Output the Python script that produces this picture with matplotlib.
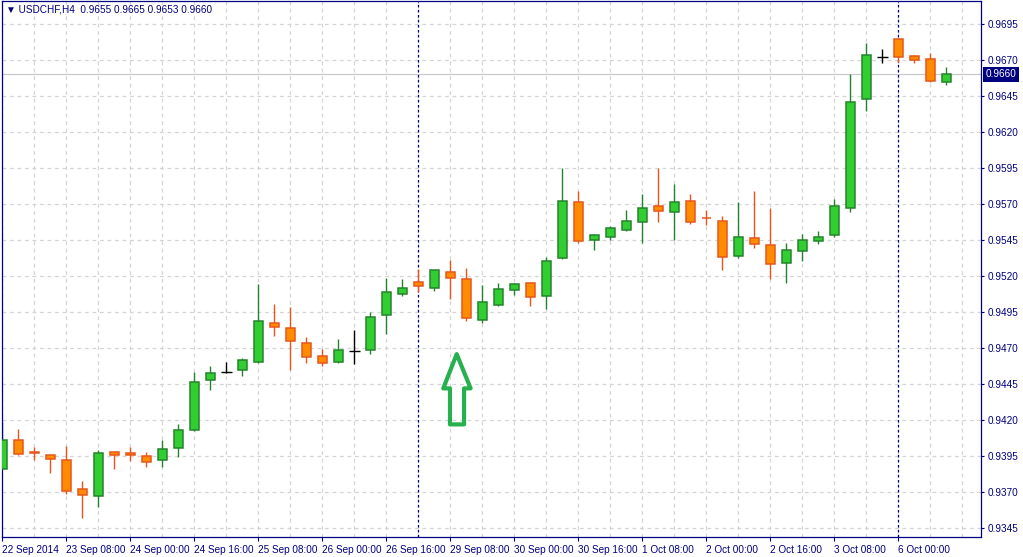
import matplotlib
matplotlib.use("Agg")
import matplotlib.pyplot as plt
from matplotlib.patches import Polygon
import matplotlib.transforms as mtransforms
import numpy as np

# ---------------- data ----------------
symbol_title = "▼ USDCHF,H4  0.9655 0.9665 0.9653 0.9660"

opens = [0.93861, 0.94060, 0.93977, 0.93956, 0.93921, 0.93721, 0.93672, 0.93977, 0.93970, 0.93949,
         0.93921, 0.94009, 0.94133, 0.94481, 0.94536, 0.94550, 0.94606, 0.94875, 0.94841, 0.94737,
         0.94647, 0.94603, 0.94682, 0.94689, 0.94930, 0.95076, 0.95159, 0.95117, 0.95228, 0.95179,
         0.94896, 0.95001, 0.95105, 0.95154, 0.95061, 0.95325, 0.95716, 0.95450, 0.95471, 0.95519,
         0.95575, 0.95688, 0.95647, 0.95723, 0.95605, 0.95584, 0.95339, 0.95466, 0.95418, 0.95290,
         0.95376, 0.95445, 0.95487, 0.95675, 0.96432, 0.96723, 0.96848, 0.96730, 0.96709, 0.96550]
highs = [0.94188, 0.94138, 0.94011, 0.93958, 0.94018, 0.93778, 0.93993, 0.93980, 0.94011, 0.93977,
         0.94062, 0.94172, 0.94532, 0.94573, 0.94606, 0.94629, 0.95142, 0.95009, 0.94986, 0.94778,
         0.94691, 0.94760, 0.94822, 0.94953, 0.95189, 0.95179, 0.95246, 0.95242, 0.95313, 0.95258,
         0.95140, 0.95154, 0.95150, 0.95160, 0.95334, 0.95948, 0.95788, 0.95490, 0.95547, 0.95656,
         0.95769, 0.95948, 0.95837, 0.95769, 0.95656, 0.95619, 0.95712, 0.95788, 0.95670, 0.95429,
         0.95494, 0.95515, 0.95737, 0.96600, 0.96820, 0.96779, 0.96855, 0.96737, 0.96751, 0.96650]
lows = [0.93861, 0.93956, 0.93926, 0.93834, 0.93684, 0.93518, 0.93594, 0.93857, 0.93919, 0.93875,
        0.93875, 0.93944, 0.94126, 0.94410, 0.94528, 0.94509, 0.94594, 0.94783, 0.94550, 0.94596,
        0.94576, 0.94596, 0.94589, 0.94659, 0.94797, 0.95059, 0.95089, 0.95094, 0.95043, 0.94887,
        0.94873, 0.94995, 0.95068, 0.94992, 0.94973, 0.95320, 0.95429, 0.95381, 0.95450, 0.95515,
        0.95429, 0.95575, 0.95450, 0.95561, 0.95554, 0.95242, 0.95325, 0.95394, 0.95182, 0.95151,
        0.95304, 0.95425, 0.95473, 0.95647, 0.96346, 0.96681, 0.96688, 0.96679, 0.96547, 0.96530]
closes = [0.94064, 0.93967, 0.93970, 0.93928, 0.93705, 0.93679, 0.93970, 0.93956, 0.93956, 0.93907,
          0.93997, 0.94129, 0.94467, 0.94530, 0.94536, 0.94619, 0.94889, 0.94848, 0.94751, 0.94640,
          0.94599, 0.94689, 0.94682, 0.94917, 0.95089, 0.95117, 0.95131, 0.95239, 0.95186, 0.94910,
          0.95020, 0.95112, 0.95147, 0.95056, 0.95306, 0.95723, 0.95443, 0.95487, 0.95536, 0.95584,
          0.95675, 0.95651, 0.95716, 0.95575, 0.95600, 0.95332, 0.95473, 0.95425, 0.95283, 0.95383,
          0.95452, 0.95473, 0.95688, 0.96411, 0.96737, 0.96723, 0.96723, 0.96702, 0.96556, 0.96600]

x_tick_labels = ['22 Sep 2014', '23 Sep 08:00', '24 Sep 00:00', '24 Sep 16:00', '25 Sep 08:00',
                 '26 Sep 00:00', '26 Sep 16:00', '29 Sep 08:00', '30 Sep 00:00', '30 Sep 16:00',
                 '1 Oct 08:00', '2 Oct 00:00', '2 Oct 16:00', '3 Oct 08:00', '6 Oct 00:00']
y_ticks = [0.9345, 0.9370, 0.9395, 0.9420, 0.9445, 0.9470, 0.9495, 0.9520,
           0.9545, 0.9570, 0.9595, 0.9620, 0.9645, 0.9670, 0.9695]
week_separators = [26, 56]
bid_price = 0.9660

# ---------------- style ----------------
NAVY = '#000080'
UP_FILL, UP_EDGE = '#32CD32', '#23852A'
DN_FILL, DN_EDGE = '#FF8C00', '#E8561A'
GRID = '#D4D4D4'
FONT = ['Liberation Sans', 'DejaVu Sans']
plt.rcParams['font.family'] = FONT

W, H = 1023, 557
fig = plt.figure(figsize=(W / 100, H / 100), dpi=100)
fig.patch.set_facecolor('white')
ax = fig.add_axes([2 / W, 1 - 537 / H, (981 - 2) / W, 536 / H])
ax.set_facecolor('white')

n = len(opens)
xs = np.arange(n)

ax.set_xlim(-0.02, 61.17)
ax.set_ylim(0.93388, 0.97110)

# grid
ax.set_yticks(y_ticks)
ax.set_yticklabels(['%.4f' % v for v in y_ticks])
ax.set_xticks(np.arange(0, 4 * len(x_tick_labels), 4))
ax.set_xticklabels(x_tick_labels)
for gx in np.arange(0, 62, 2):
    ax.axvline(gx, color=GRID, lw=0.9, ls=(0, (3, 3)), zorder=0)
for gy in y_ticks:
    ax.axhline(gy, color=GRID, lw=0.9, ls=(0, (3, 3)), zorder=0)

# bid line
ax.axhline(bid_price, color='#C8C8C8', lw=0.9, zorder=1)

# week separators
for s in week_separators:
    ax.axvline(s, color=NAVY, lw=0.9, ls=(0, (2.0, 2.0)), zorder=1)

# candles
body_w = 0.58
for i in range(n):
    o, h, l, c = opens[i], highs[i], lows[i], closes[i]
    if c > o:
        fill, edge = UP_FILL, UP_EDGE
    elif c < o:
        fill, edge = DN_FILL, DN_EDGE
    else:
        fill, edge = 'black', 'black'
    ax.vlines(xs[i], l, h, color=edge, lw=1.0, zorder=2)
    if c == o:
        ax.hlines(o, xs[i] - 0.34, xs[i] + 0.34, color=edge, lw=1.0, zorder=3)
    else:
        ax.bar(xs[i], abs(c - o), bottom=min(o, c), width=body_w,
               color=fill, edgecolor=edge, linewidth=1.1, zorder=3)

# green outline arrow annotation
arrow_pts = [(28.40, 0.94658), (29.27, 0.94420), (28.86, 0.94420), (28.86, 0.94170),
             (27.98, 0.94170), (27.98, 0.94420), (27.56, 0.94420)]
ax.add_patch(Polygon(arrow_pts, closed=True, fill=False, edgecolor='#26B04E',
                     linewidth=3.0, joinstyle='round', zorder=4))

# axes appearance
for sp in ax.spines.values():
    sp.set_color(NAVY)
    sp.set_linewidth(0.9)
ax.yaxis.tick_right()
ax.tick_params(axis='y', which='both', direction='out', length=2.5, width=0.8,
               color=NAVY, labelcolor=NAVY, labelsize=7.2, pad=2.5, left=False)
ax.tick_params(axis='x', which='both', direction='out', length=3, width=0.8,
               color=NAVY, labelcolor=NAVY, labelsize=7.2, pad=2.5)
for lab in ax.get_xticklabels():
    lab.set_horizontalalignment('left')
for lab in ax.get_yticklabels():
    lab.set_horizontalalignment('left')

# current price box on the right axis
trans = mtransforms.blended_transform_factory(ax.transAxes, ax.transData)
ax.text(1.0 + 4.5 / 979, bid_price, '%.4f' % bid_price, transform=trans, ha='left', va='center',
        color='white', fontsize=7.2, zorder=10, clip_on=False,
        bbox=dict(facecolor=NAVY, edgecolor='none', boxstyle='square,pad=0.22'))

# title
fig.text(6 / W, 1 - 10 / H, symbol_title, color=NAVY, fontsize=7.2, ha='left', va='center',
         family=FONT)

fig.savefig('out.png', dpi=100, facecolor='white')
